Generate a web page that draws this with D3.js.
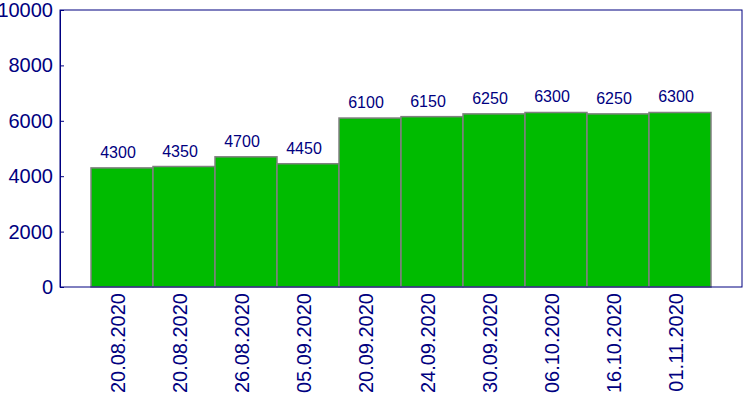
<!DOCTYPE html>
<html>
<head>
<meta charset="utf-8">
<script src="https://cdn.jsdelivr.net/npm/d3@7"></script>
<style>
  body { margin: 0; background: #fff; }
  svg { display: block; font-family: "Liberation Sans", Arial, sans-serif; }
</style>
</head>
<body>
<svg id="chart" width="750" height="400"></svg>
<script>
const dates = ['20.08.2020', '20.08.2020', '26.08.2020', '05.09.2020', '20.09.2020',
  '24.09.2020', '30.09.2020', '06.10.2020', '16.10.2020', '01.11.2020'];
const values = [4300, 4350, 4700, 4450, 6100, 6150, 6250, 6300, 6250, 6300];
const yTicks = [0, 2000, 4000, 6000, 8000, 10000];

const svg = d3.select('#chart');
const margin = { top: 10, right: 8, bottom: 113, left: 60 };
const width = 750 - margin.left - margin.right;
const height = 400 - margin.top - margin.bottom;
const navy = '#000080';
const font = '"Liberation Sans", Arial, sans-serif';

const g = svg.append('g')
  .attr('transform', 'translate(' + margin.left + ',' + margin.top + ')');

// index-based band so duplicate dates keep their own slot
const x = d3.scaleBand()
  .domain(d3.range(dates.length))
  .range([0, width])
  .paddingInner(0)
  .paddingOuter(0.5);

const y = d3.scaleLinear().domain([0, 10000]).range([height, 0]);

g.selectAll('rect.bar')
  .data(values)
  .enter()
  .append('rect')
  .attr('class', 'bar')
  .attr('x', (d, i) => x(i))
  .attr('y', d => y(d))
  .attr('width', x.bandwidth())
  .attr('height', d => height - y(d))
  .attr('fill', '#00bb00')
  .attr('stroke', '#808080')
  .attr('stroke-width', 1.5);

g.selectAll('text.val')
  .data(values)
  .enter()
  .append('text')
  .attr('class', 'val')
  .attr('x', (d, i) => x(i) + x.bandwidth() / 2 - 4)
  .attr('y', d => y(d) - 10)
  .attr('text-anchor', 'middle')
  .attr('font-size', 16)
  .attr('font-family', font)
  .attr('fill', navy)
  .text(d => d);

// frame
g.append('rect')
  .attr('width', width)
  .attr('height', height)
  .attr('fill', 'none')
  .attr('stroke', navy)
  .attr('stroke-width', 1);

const yAxis = g.append('g')
  .call(d3.axisLeft(y).tickValues(yTicks).tickSize(-4).tickPadding(7).tickFormat(d3.format('d')));
yAxis.select('.domain').attr('stroke', navy);
yAxis.selectAll('line').attr('stroke', navy);
yAxis.selectAll('text')
  .attr('fill', navy)
  .attr('font-size', 20)
  .attr('font-family', font);

const xAxis = g.append('g')
  .attr('transform', 'translate(0,' + height + ')')
  .call(d3.axisBottom(x).tickSize(0).tickFormat(i => dates[i]));
xAxis.select('.domain').remove();
xAxis.selectAll('text')
  .attr('fill', navy)
  .attr('font-size', 20)
  .attr('font-family', font)
  .attr('text-anchor', 'end')
  .attr('transform', 'translate(-4,6) rotate(-90)')
  .attr('x', 0)
  .attr('y', 0)
  .attr('dy', '0.35em');
</script>
</body>
</html>
